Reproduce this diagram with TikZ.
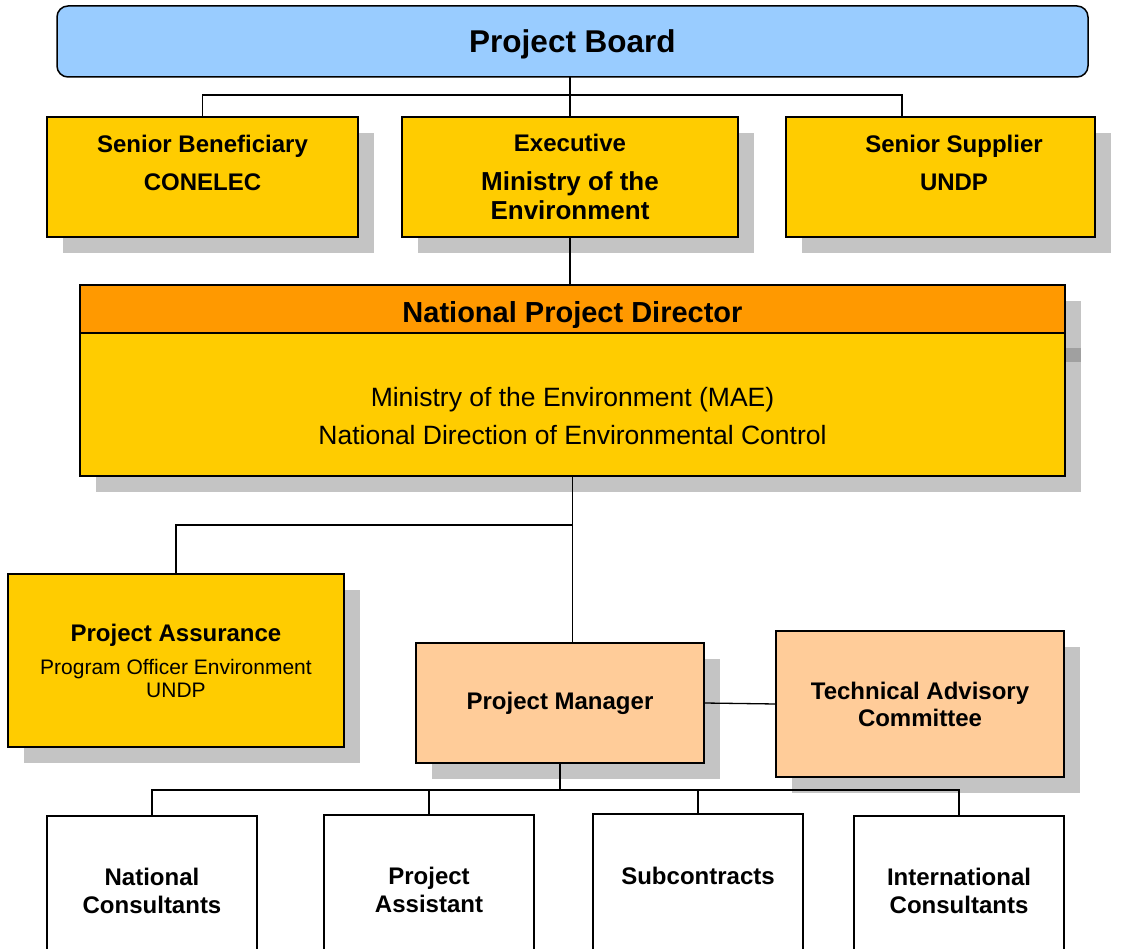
\documentclass[tikz,border=0pt]{standalone}
\usepackage{fontspec}
\setmainfont{Liberation Sans}
\usetikzlibrary{positioning,shadows}
\definecolor{boardblue}{RGB}{153,204,255}
\definecolor{unityellow}{RGB}{255,204,0}
\definecolor{headorange}{RGB}{255,153,0}
\definecolor{peach}{RGB}{255,204,153}
\definecolor{shadowgrey}{RGB}{196,196,196}
\definecolor{shadowdark}{RGB}{160,160,160}
\tikzset{
    %Define grey drop shadow
    skygge/.style={
           drop shadow={shadow xshift=16pt,shadow yshift=-16pt,
                        fill=shadowgrey,opacity=1}},
    %Define style for boxes
    boks/.style={
           rectangle,
           draw=black, line width=1.5pt,
           inner sep=0pt, outer sep=0pt,
           align=center,
           font=\fontsize{24}{29}\selectfont\bfseries},
    boardbox/.style={boks, rounded corners=11pt, fill=boardblue,
           text depth=0pt, font=\fontsize{31.5}{36}\selectfont\bfseries},
    unitbox/.style={boks, skygge, fill=unityellow},
    headbox/.style={boks, skygge, fill=headorange, text height=27pt, text depth=0pt,
           font=\fontsize{29}{34}\selectfont\bfseries},
    teambox/.style={boks, skygge, fill=peach},
    staffbox/.style={boks, fill=white, minimum width=210, minimum height=160},
    %Define style for loose text
    boxtext/.style={inner sep=0pt, align=center,
           font=\fontsize{24}{29}\selectfont\bfseries},
    %Define style for connectors
    wire/.style={draw=black, line width=1.3pt}
}
\newcommand{\subline}{\fontsize{26}{30}\selectfont}
\newcommand{\smalline}{\fontsize{21}{23}\selectfont\mdseries}
\begin{document}
\begin{tikzpicture}[x=1pt,y=1pt]
\useasboundingbox (0,0) rectangle (1127,-949);
\clip (0,0) rectangle (1127,-949);
 %board and its three roles
\node[boardbox, minimum width=1031, minimum height=71] (board) at (572.5,-41.5) {Project Board};
\node[unitbox, minimum width=311, minimum height=120] (sb) at (202.5,-177)
    {Senior Beneficiary\\[9pt]CONELEC\\\subline\vphantom{E}};
\node[unitbox, minimum width=336, minimum height=120] (ex) at (570,-177)
    {Executive\\[10pt]{\subline Ministry of the}\\{\subline Environment}};
\node[unitbox, minimum width=309, minimum height=120] (ss) at (940.5,-177)
    {\hspace*{27pt}Senior Supplier\\[9pt]\hspace*{27pt}UNDP\\\subline\vphantom{E}};
 %director
\node[headbox, minimum width=985, minimum height=48] (npdhead) at (572.5,-309) {National Project Director};
\node[unitbox, minimum width=985, minimum height=143, below=0pt of npdhead] (npd) {};
\node[boxtext, font=\fontsize{26.5}{38}\selectfont] (npdtext) at ([yshift=-12pt]npd.center)
    {Ministry of the Environment (MAE)\\National Direction of Environmental Control};
\fill[shadowdark] ([xshift=0.8pt,yshift=-15pt]npd.north east) rectangle ++(15.2,-14);
 %assurance and management
\node[unitbox, minimum width=336, minimum height=173] (pa) at (176,-660.5)
    {Project Assurance\\[4pt]{\smalline Program Officer Environment}\\[-6pt]{\smalline UNDP}};
\node[teambox, minimum width=288, minimum height=120] (pm) at (560,-703) {Project Manager};
\node[teambox, minimum width=288, minimum height=146] (tac) at (920,-704)
    {Technical Advisory\\[-2pt]Committee};
 %project staff
\node[staffbox, anchor=north] (nc) at (152,-816) {};
\node[staffbox, anchor=north] (pas) at (429,-815) {};
\node[staffbox, anchor=north] (sub) at (698,-814) {};
\node[staffbox, anchor=north] (ic) at (959,-816) {};
\node[boxtext, below=52pt of nc.north] (nctext) {National\\[-1pt]Consultants};
\node[boxtext, below=52pt of pas.north] (pastext) {Project\\[-1pt]Assistant};
\node[boxtext, below=53pt of sub.north] (subtext) {Subcontracts};
\node[boxtext, below=52pt of ic.north] (ictext) {International\\[-1pt]Consultants};
 %connectors
\coordinate (topbar) at (0,-95);
\coordinate (midbar) at (0,-525);
\coordinate (lowbar) at (0,-790);
\draw[wire] (ex.north |- board.south) -- (ex.north);
\draw[wire] (sb.north) -- (sb.north |- topbar) -- ([xshift=-38.5pt]ss.north |- topbar)
    -- ([xshift=-38.5pt]ss.north);
\draw[wire] (ex.south) -- (ex.south |- npdhead.north);
\draw[wire] (npd.south) -- (npd.south |- pm.north);
\draw[wire] (npd.south |- midbar) -- (pa.north |- midbar) -- (pa.north);
\draw[wire] (pm.east) -- (tac.west);
\draw[wire] (pm.south) -- (pm.south |- lowbar);
\draw[wire] (nc.north) -- (nc.north |- lowbar) -- (ic.north |- lowbar) -- (ic.north);
\draw[wire] (pas.north) -- (pas.north |- lowbar);
\draw[wire] (sub.north) -- (sub.north |- lowbar);
\end{tikzpicture}
\end{document}
